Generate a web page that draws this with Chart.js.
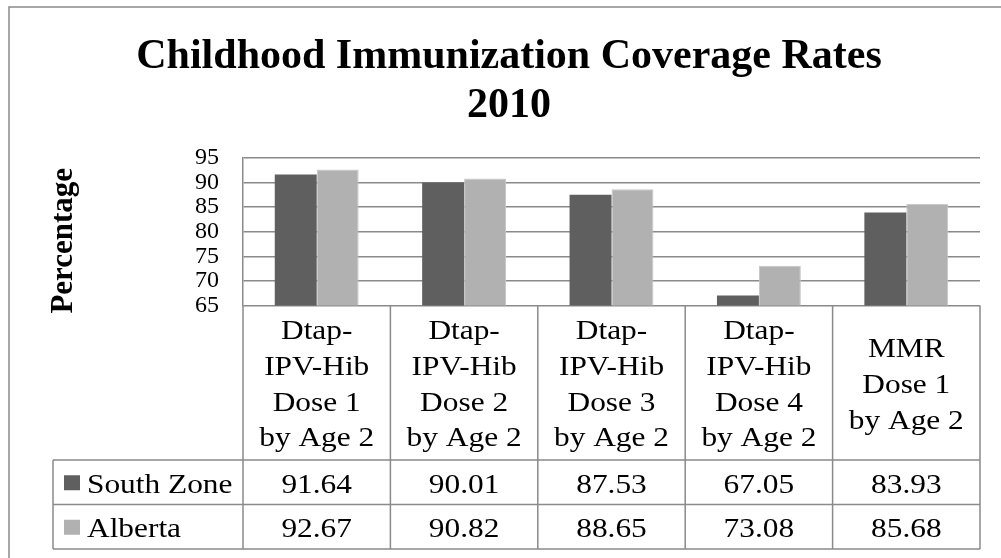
<!DOCTYPE html>
<html>
<head>
<meta charset="utf-8">
<script src="https://cdn.jsdelivr.net/npm/chart.js@4.4.1/dist/chart.umd.min.js"></script>
<style>
  html, body { margin: 0; padding: 0; background: #fff; }
  #wrap { position: relative; width: 1001px; height: 558px; overflow: hidden; }
  canvas { display: block; }
</style>
</head>
<body>
<div id="wrap"><canvas id="c" width="1001" height="558"></canvas></div>
<script>
// ---- Data ----
const titleLines = ["Childhood Immunization Coverage Rates", "2010"];
const yAxisTitle = "Percentage";
const categories = [
  ["Dtap-", "IPV-Hib", "Dose 1", "by Age 2"],
  ["Dtap-", "IPV-Hib", "Dose 2", "by Age 2"],
  ["Dtap-", "IPV-Hib", "Dose 3", "by Age 2"],
  ["Dtap-", "IPV-Hib", "Dose 4", "by Age 2"],
  ["MMR", "Dose 1", "by Age 2"]
];
const seriesNames = ["South Zone", "Alberta"];
const southZone = [91.64, 90.01, 87.53, 67.05, 83.93];
const alberta = [92.67, 90.82, 88.65, 73.08, 85.68];
const yMin = 65, yMax = 95, yStep = 5;

// ---- Styles ----
const SERIF = "'Liberation Serif', 'Times New Roman', serif";
const DARK = '#5f5f5f', LIGHT = '#b1b1b1';
const LINE = '#8a8a8a';
const seriesColors = [DARK, LIGHT];
const SX = 1.12; // horizontal stretch of table text

function stretchedText(ctx, text, x, y, size, bold, align, sx) {
  ctx.save();
  ctx.font = (bold ? 'bold ' : '') + size + 'px ' + SERIF;
  ctx.textAlign = align;
  ctx.textBaseline = 'alphabetic';
  ctx.fillStyle = '#000';
  ctx.translate(x, y);
  ctx.scale(sx, 1);
  ctx.fillText(text, 0, 0);
  ctx.restore();
}

const decorPlugin = {
  id: 'decor',
  afterDraw(chart) {
    const ctx = chart.ctx;
    const ca = chart.chartArea;
    const xs = chart.scales.x;
    // outer border (left & top)
    ctx.save();
    ctx.strokeStyle = LINE;
    ctx.lineWidth = 1.5;
    ctx.beginPath();
    ctx.moveTo(9, 560); ctx.lineTo(9, 7); ctx.lineTo(1005, 7);
    ctx.stroke();
    ctx.restore();

    // title
    ctx.save();
    ctx.font = 'bold 42px ' + SERIF;
    ctx.textAlign = 'center';
    ctx.textBaseline = 'alphabetic';
    ctx.fillStyle = '#000';
    ctx.fillText(titleLines[0], 509, 68);
    ctx.fillText(titleLines[1], 509, 117);
    ctx.restore();

    // y axis title
    ctx.save();
    ctx.translate(72, (ca.top + ca.bottom) / 2 + 9);
    ctx.rotate(-Math.PI / 2);
    ctx.font = 'bold 31px ' + SERIF;
    ctx.textAlign = 'center';
    ctx.textBaseline = 'alphabetic';
    ctx.fillStyle = '#000';
    ctx.fillText(yAxisTitle, 0, 0);
    ctx.restore();

    // data table
    const n = categories.length;
    const cw = (ca.right - ca.left) / n;
    const headTop = ca.bottom;
    const headBot = 460;
    const rowH = 44.5;
    const rowTops = [headBot, headBot + rowH];
    const tableBot = headBot + 2 * rowH;
    const legLeft = 53;

    ctx.save();
    ctx.strokeStyle = LINE;
    ctx.lineWidth = 1.5;
    ctx.beginPath();
    for (let i = 0; i <= n; i++) {
      const xx = i < n ? xs.getPixelForValue(i) - cw / 2 : xs.getPixelForValue(n - 1) + cw / 2;
      ctx.moveTo(xx, headTop); ctx.lineTo(xx, tableBot);
    }
    ctx.moveTo(legLeft, headBot); ctx.lineTo(legLeft, tableBot);
    ctx.moveTo(legLeft, headBot); ctx.lineTo(ca.right, headBot);
    ctx.moveTo(legLeft, headBot + rowH); ctx.lineTo(ca.right, headBot + rowH);
    ctx.moveTo(legLeft, tableBot); ctx.lineTo(ca.right, tableBot);
    ctx.stroke();
    ctx.restore();

    // category labels
    const pitch = 35.8;
    const headMid = (headTop + headBot) / 2 + 10;
    categories.forEach((lines, i) => {
      const cx = xs.getPixelForValue(i);
      const first = headMid - (lines.length - 1) * pitch / 2;
      lines.forEach((ln, k) => {
        stretchedText(ctx, ln, cx, first + k * pitch, 28, false, 'center', SX);
      });
    });

    // rows
    const seriesData = [southZone, alberta];
    seriesData.forEach((arr, r) => {
      const mid = rowTops[r] + rowH / 2;
      ctx.save();
      ctx.fillStyle = seriesColors[r];
      ctx.fillRect(64, mid - 7, 16, 15);
      ctx.restore();
      stretchedText(ctx, seriesNames[r], 87, mid + 10.5, 28, false, 'left', SX);
      arr.forEach((v, i) => {
        stretchedText(ctx, v.toFixed(2), xs.getPixelForValue(i), mid + 10.5, 28, false, 'center', SX);
      });
    });
  }
};

new Chart(document.getElementById('c'), {
  type: 'bar',
  data: {
    labels: categories.map(c => c.join(' ')),
    datasets: [
      { label: seriesNames[0], data: southZone, backgroundColor: DARK, borderColor: '#5a5a5a', borderWidth: 0,
        categoryPercentage: 0.569, barPercentage: 1.0 },
      { label: seriesNames[1], data: alberta, backgroundColor: LIGHT, borderColor: '#c6c6c6', borderWidth: 1,
        categoryPercentage: 0.569, barPercentage: 1.0 }
    ]
  },
  options: {
    responsive: false,
    animation: false,
    layout: { padding: { left: 0, right: 21, top: 158, bottom: 252.5 } },
    plugins: {
      legend: { display: false },
      title: { display: false },
      tooltip: { enabled: false }
    },
    scales: {
      x: { display: false, grid: { display: false } },
      y: {
        min: yMin, max: yMax,
        ticks: {
          stepSize: yStep,
          autoSkip: false,
          padding: 24,
          color: '#000',
          font: { family: SERIF, size: 24, lineHeight: 1 }
        },
        grid: { color: LINE, lineWidth: 1.5, drawTicks: false },
        border: { display: true, color: LINE, width: 1.5 },
        afterFit(scale) { scale.width = 243; }
      }
    }
  },
  plugins: [decorPlugin]
});
</script>
</body>
</html>
